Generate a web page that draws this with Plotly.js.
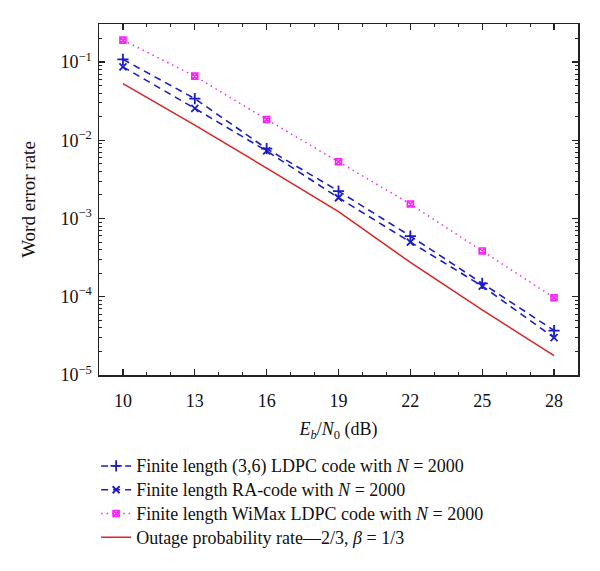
<!DOCTYPE html>
<html>
<head>
<meta charset="utf-8">
<script src="https://cdn.plot.ly/plotly-3.0.1.min.js"></script>
<style>html,body{margin:0;padding:0;background:#fff;}#chart{width:600px;height:571px;}</style>
</head>
<body>
<div id="chart"></div>
<script>
const snr = [10, 13, 16, 19, 22, 25, 28];
const ldpc36 = [0.108, 0.034, 0.0078, 0.00224, 0.000596, 0.000148, 0.000037];
const raCode = [0.0865, 0.0255, 0.0073, 0.00184, 0.000500, 0.000137, 0.000030];
const wimax = [0.19, 0.066, 0.0184, 0.0053, 0.00153, 0.000384, 0.000097];
const outage = [0.053, 0.0156, 0.0044, 0.00122, 0.000275, 0.000068, 0.0000177];
const names = [
  'Finite length (3,6) LDPC code with <i>N</i> = 2000',
  'Finite length RA-code with <i>N</i> = 2000',
  'Finite length WiMax LDPC code with <i>N</i> = 2000',
  'Outage probability rate\u20142/3, <i>\u03b2</i> = 1/3'
];
const xTicks = [10, 13, 16, 19, 22, 25, 28];
const yTickVals = [1e-5, 1e-4, 1e-3, 1e-2, 1e-1];
const yTickText = ['10<sup>\u22125</sup>', '10<sup>\u22124</sup>', '10<sup>\u22123</sup>', '10<sup>\u22122</sup>', '10<sup>\u22121</sup>'];

const big = s => '<span style="font-size:18px">' + s + '</span>';
const blue = '#1c1cc8';
const traces = [
  {x: snr, y: ldpc36, name: big(names[0]), legendgroup: 'a', mode: 'lines+markers',
   line: {color: blue, width: 1.6, dash: '7px,5px'},
   marker: {symbol: 'cross-thin-open', size: 8, line: {color: blue, width: 1.8}}},
  {x: snr, y: raCode, name: big(names[1]), legendgroup: 'b', mode: 'lines+markers',
   line: {color: blue, width: 1.6, dash: '7px,5px'},
   marker: {symbol: 'x-thin-open', size: 7, line: {color: blue, width: 1.8}}},
  {x: snr, y: wimax, name: big(names[2]), legendgroup: 'c', mode: 'lines+markers',
   line: {color: '#ff20ff', width: 1.5, dash: '1.5px,4px'},
   marker: {symbol: 'square-x-open', size: 6, line: {color: '#ee10ee', width: 1.6}}},
  {x: snr, y: outage, name: big(names[3]), legendgroup: 'd', mode: 'lines',
   line: {color: '#dd2222', width: 1.5}}
];

const fam = '"Liberation Serif", "DejaVu Serif", serif';
const font = {family: fam, size: 18, color: '#111'};
const layout = {
  width: 600, height: 571,
  margin: {l: 99, r: 22, t: 24, b: 196},
  paper_bgcolor: '#fff', plot_bgcolor: '#fff',
  font: font,
  showlegend: true,
  legend: {x: -0.006, xanchor: 'left', y: -0.211, yanchor: 'top',
           font: {family: fam, size: 16, color: '#111'},
           tracegroupgap: 0, traceorder: 'grouped', bgcolor: 'rgba(0,0,0,0)'},
  xaxis: {
    range: [9, 29], tickvals: xTicks, ticks: 'inside', ticklen: 6, tickwidth: 1.2, tickcolor: '#222',
    minor: {dtick: 1, tick0: 0, ticks: 'inside', ticklen: 3, tickwidth: 1, tickcolor: '#222'},
    showgrid: false, zeroline: false, showline: true, linecolor: '#222', linewidth: 1.5, mirror: 'allticks',
    ticklabelstandoff: 9, automargin: false,
    tickfont: {family: fam, size: 18, color: '#111'},
    title: {text: '<i>E</i><sub><i>b</i></sub>/<i>N</i><sub>0</sub> (dB)', standoff: 12,
            font: {family: fam, size: 18, color: '#111'}}
  },
  yaxis: {
    type: 'log', range: [-5, -0.515], tickvals: yTickVals, ticktext: yTickText,
    ticks: 'inside', ticklen: 6, tickwidth: 1.2, tickcolor: '#222',
    minor: {dtick: 'D1', ticks: 'inside', ticklen: 3, tickwidth: 1, tickcolor: '#222'},
    showgrid: false, zeroline: false, showline: true, linecolor: '#222', linewidth: 1.5, mirror: 'allticks',
    ticklabelstandoff: 2, automargin: false,
    tickfont: {family: fam, size: 18, color: '#111'},
    title: {text: 'Word error rate', standoff: 20, font: {family: fam, size: 19, color: '#111'}}
  }
};
Plotly.newPlot('chart', traces, layout, {displayModeBar: false, staticPlot: true});
</script>
</body>
</html>
